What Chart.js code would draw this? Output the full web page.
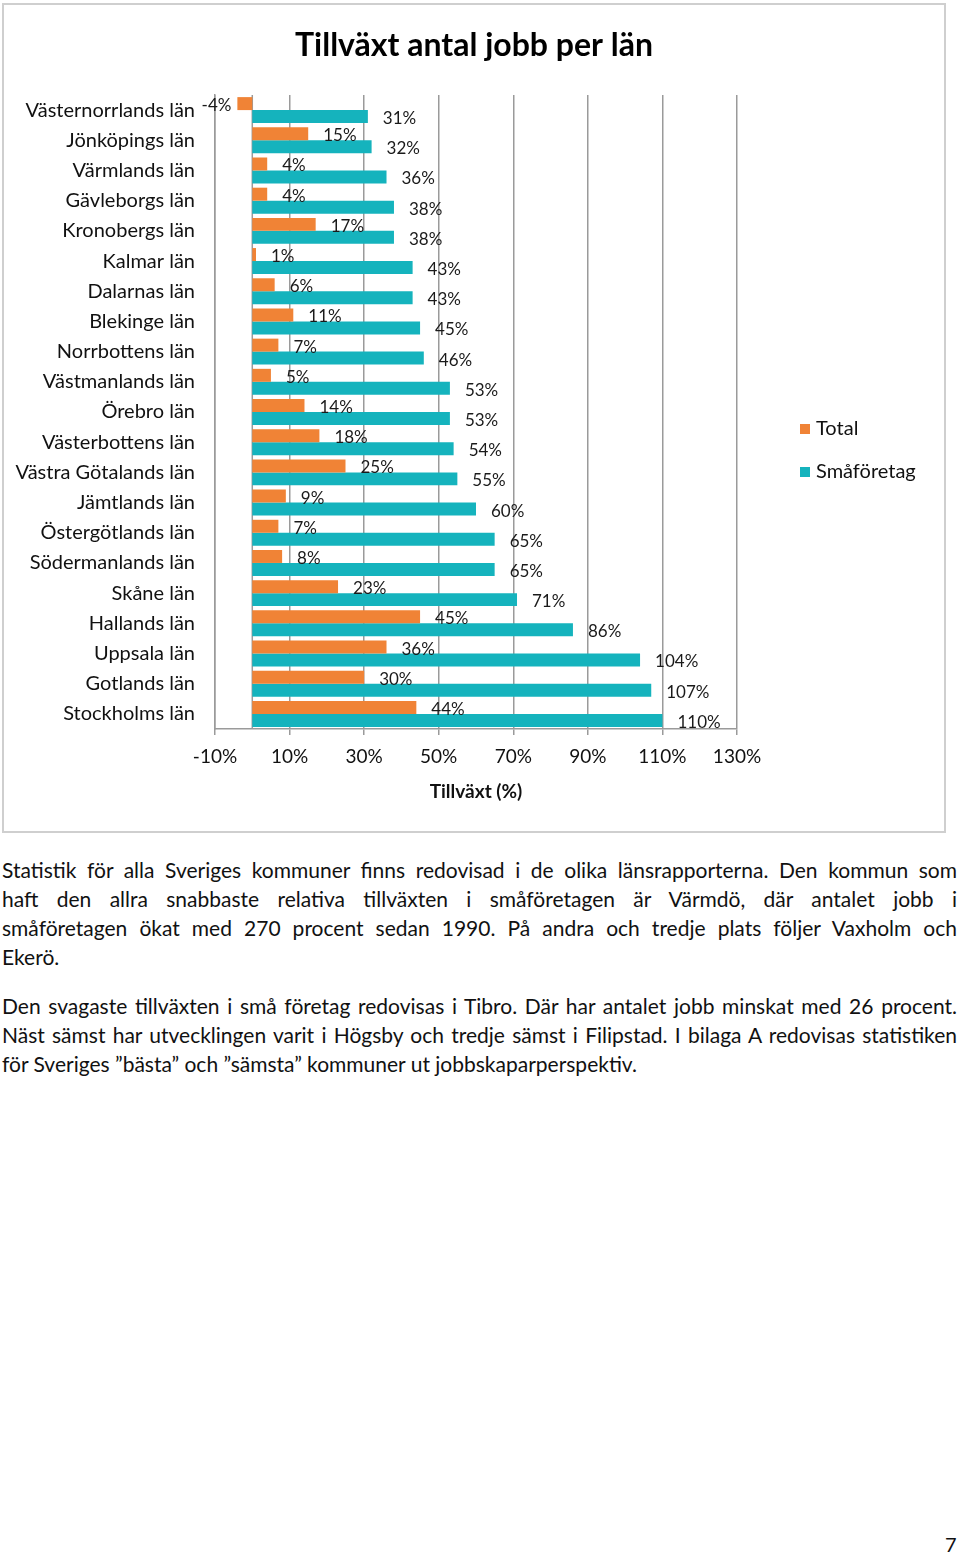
<!DOCTYPE html>
<html>
<head>
<meta charset="utf-8">
<script src="https://cdn.jsdelivr.net/npm/chart.js@4"></script>
<style>
  body { margin: 0; background: #fff; font-family: Lato, sans-serif; color: #111; }
  #box { position: absolute; left: 2px; top: 3px; width: 944px; height: 830px; border: 2px solid #cfcfcf; box-sizing: border-box; }
  #box canvas { display: block; }
  #text { position: absolute; left: 2px; top: 855px; width: 955px; font-size: 21px; line-height: 29px; }
  #text p { margin: 0 0 20px 0; }
  #text span { display: block; text-align: justify; text-align-last: justify; white-space: nowrap; }
  #text span.last { text-align-last: left; }
  #page { position: absolute; left: 945px; top: 1532px; font-size: 20px; }
</style>
</head>
<body>
<div id="box"><canvas id="barCanvas" width="940" height="826"></canvas></div>

<div id="text">
  <p>
    <span>Statistik för alla Sveriges kommuner finns redovisad i de olika länsrapporterna. Den kommun som</span>
    <span>haft den allra snabbaste relativa tillväxten i småföretagen är Värmdö, där antalet jobb i</span>
    <span>småföretagen ökat med 270 procent sedan 1990. På andra och tredje plats följer Vaxholm och</span>
    <span class="last">Ekerö.</span>
  </p>
  <p>
    <span>Den svagaste tillväxten i små företag redovisas i Tibro. Där har antalet jobb minskat med 26 procent.</span>
    <span>Näst sämst har utvecklingen varit i Högsby och tredje sämst i Filipstad. I bilaga A redovisas statistiken</span>
    <span class="last">för Sveriges ”bästa” och ”sämsta” kommuner ut jobbskaparperspektiv.</span>
  </p>
</div>
<div id="page">7</div>

<script>
let lan = ["Västernorrlands län", "Jönköpings län", "Värmlands län", "Gävleborgs län", "Kronobergs län",
    "Kalmar län", "Dalarnas län", "Blekinge län", "Norrbottens län", "Västmanlands län", "Örebro län",
    "Västerbottens län", "Västra Götalands län", "Jämtlands län", "Östergötlands län", "Södermanlands län",
    "Skåne län", "Hallands län", "Uppsala län", "Gotlands län", "Stockholms län"];

let value_total = [-4, 15, 4, 4, 17, 1, 6, 11, 7, 5, 14, 18, 25, 9, 7, 8, 23, 45, 36, 30, 44];
let value_smaforetag = [31, 32, 36, 38, 38, 43, 43, 45, 46, 53, 53, 54, 55, 60, 65, 65, 71, 86, 104, 107, 110];

let series_names = ["Total", "Småföretag"];
let series_colors = ["#f08336", "#15b3bd"];
let chart_title = "Tillväxt antal jobb per län";

let gridColor = "#9a9a9a";

// titel, etiketter vid stapelns ände, nollinje och legend
let extras = {
    id: "extras",
    beforeDatasetsDraw(chart) {
        let ctx = chart.ctx;
        let x0 = chart.scales.x.getPixelForValue(0);
        ctx.save();
        ctx.strokeStyle = gridColor;
        ctx.lineWidth = 1.5;
        ctx.beginPath();
        ctx.moveTo(x0, chart.chartArea.top);
        ctx.lineTo(x0, chart.chartArea.bottom);
        ctx.stroke();
        ctx.restore();
    },
    afterDatasetsDraw(chart) {
        let ctx = chart.ctx;
        ctx.save();
        ctx.font = "17px Lato";
        ctx.fillStyle = "#1a1a1a";
        ctx.textBaseline = "middle";
        chart.data.datasets.forEach(function(ds, i) {
            chart.getDatasetMeta(i).data.forEach(function(bar, j) {
                let v = ds.data[j];
                if (v < 0) {
                    ctx.textAlign = "right";
                    ctx.fillText(v + "%", bar.x - 6, bar.y + 2);
                } else {
                    ctx.textAlign = "left";
                    ctx.fillText(v + "%", bar.x + 15, bar.y + 2);
                }
            });
        });
        // legend
        ctx.font = "20px Lato";
        ctx.textAlign = "left";
        for (let i = 0; i < series_names.length; i++) {
            let y = 424 + i * 43;
            ctx.fillStyle = series_colors[i];
            ctx.fillRect(796, y - 5, 10, 10);
            ctx.fillStyle = "#111";
            ctx.fillText(series_names[i], 812, y);
        }
        // titel centrerad över hela rutan
        ctx.font = "bold 32px Lato";
        ctx.fillStyle = "#000";
        ctx.textAlign = "center";
        ctx.fillText(chart_title, chart.width / 2, 41);
        ctx.restore();
    }
};

barCanvas = document.getElementById("barCanvas");

barChart = new Chart(barCanvas, {
    type: "bar",
    data: {
        labels: lan,
        datasets: [{
            label: series_names[0],
            data: value_total,
            backgroundColor: series_colors[0]
        }, {
            label: series_names[1],
            data: value_smaforetag,
            backgroundColor: series_colors[1]
        }]
    },
    options: {
        indexAxis: "y",
        responsive: false,
        animation: false,
        categoryPercentage: 0.86,
        barPercentage: 1.0,
        layout: { padding: { left: 10, right: 207, top: 90, bottom: 0 } },
        scales: {
            x: {
                min: -10,
                max: 130,
                ticks: {
                    stepSize: 20,
                    color: "#111",
                    font: { family: "Lato", size: 19 },
                    padding: 10,
                    callback: function(value) {
                        return value + "%";
                    }
                },
                grid: { color: gridColor, lineWidth: 1.5, tickLength: 6, tickColor: gridColor },
                border: { color: gridColor, width: 1.5 },
                title: {
                    display: true,
                    text: "Tillväxt (%)",
                    color: "#111",
                    font: { family: "Lato", size: 19, weight: "bold" },
                    padding: { top: 4, bottom: 28 }
                },
                afterFit: function(scale) { scale.height = 102; }
            },
            y: {
                grid: { display: false },
                border: { color: gridColor, width: 1.5 },
                ticks: {
                    color: "#111",
                    font: { family: "Lato", size: 20 },
                    padding: 12
                },
                afterFit: function(scale) { scale.width = 201; }
            }
        },
        plugins: {
            legend: { display: false }, // egen legend i pluginet
            tooltip: { enabled: false },
            title: { display: false }
        }
    },
    plugins: [extras]
});
</script>
</body>
</html>
